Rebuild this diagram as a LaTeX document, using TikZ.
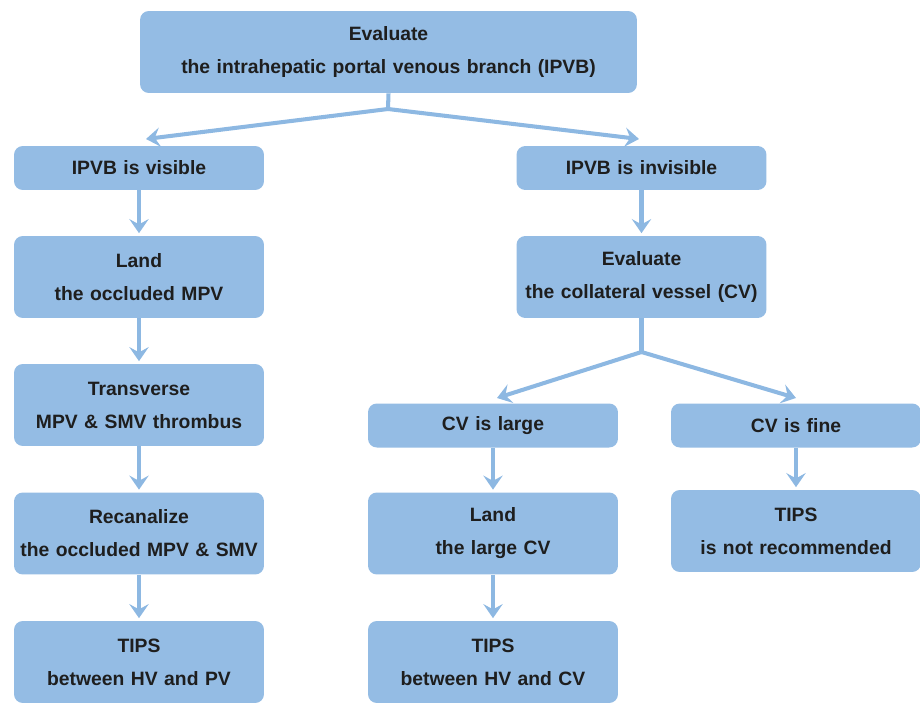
\documentclass[tikz,border=0pt]{standalone}
\usepackage{fontspec}
\setmainfont{Liberation Sans}
\usepackage{tikz}
\usetikzlibrary{arrows.meta,positioning,calc}

\definecolor{boxblue}{RGB}{148,188,228}
\definecolor{arrblue}{RGB}{141,184,226}
\definecolor{txtgray}{RGB}{30,30,30}

\tikzset{
  box/.style={fill=boxblue,rounded corners=5pt,minimum width=5cm,text width=4.9cm,align=center,
    text=txtgray,font=\fontsize{11}{18.8}\selectfont\bfseries,inner sep=0pt},
  small/.style={box,minimum height=0.88cm},
  big/.style={box,minimum height=1.64cm},
  arr/.style={draw=arrblue,line width=2.3pt,-{Stealth[length=8pt,width=11pt,inset=3pt]}},
  ln/.style={draw=arrblue,line width=2.3pt}
}

\begin{document}
\begin{tikzpicture}[x=0.02cm,y=-0.02cm]
\useasboundingbox (0,0) rectangle (920,703);
\node[big,minimum width=9.94cm,text width=9.6cm] (top) at (388.5,52) {Evaluate\\the intrahepatic portal venous branch (IPVB)};
\node[small] (vis)     at (139,168) {IPVB is visible};
\node[small] (invis)   at (641.5,168) {IPVB is invisible};
\node[big]   (landmpv) at (139,277) {Land\\the occluded MPV};
\node[big]   (evalcv)  at (641.5,277) {Evaluate\\the collateral vessel (CV)};
\node[big]   (trans)   at (139,405) {Transverse\\MPV \& SMV thrombus};
\node[small] (cvlarge) at (493,425.5) {CV is large};
\node[small] (cvfine)  at (796,425.5) {CV is fine};
\node[big]   (recan)   at (139,533.5) {Recanalize\\the occluded MPV \& SMV};
\node[big]   (landcv)  at (493,533.5) {Land\\the large CV};
\node[big]   (notrec)  at (796,531) {TIPS\\is not recommended};
\node[big]   (tipspv)  at (139,662) {TIPS\\between HV and PV};
\node[big]   (tipscv)  at (493,662) {TIPS\\between HV and CV};

% branch points
\coordinate (j1) at (388,109);
\coordinate (j1l) at (146,139);
\coordinate (j1r) at (639,139);
\coordinate (j2) at (641.5,352);
\coordinate (j2l) at (497,398);
\coordinate (j2r) at (796,398);

\draw[ln] (top.south) -- (j1);
\draw[arr] (j1) -- (j1l);
\draw[arr] (j1) -- (j1r);
\draw[ln] (evalcv.south) -- (j2);
\draw[arr] (j2) -- (j2l);
\draw[arr] (j2) -- (j2r);

\draw[arr] (vis) -- ([yshift=0.05cm]landmpv.north);
\draw[arr] (landmpv) -- ([yshift=0.05cm]trans.north);
\draw[arr] (trans) -- ([yshift=0.05cm]recan.north);
\draw[arr] (recan) -- ([yshift=0.05cm]tipspv.north);
\draw[arr] (invis) -- ([yshift=0.05cm]evalcv.north);
\draw[arr] (cvlarge) -- ([yshift=0.05cm]landcv.north);
\draw[arr] (landcv) -- ([yshift=0.05cm]tipscv.north);
\draw[arr] (cvfine) -- ([yshift=0.05cm]notrec.north);
\end{tikzpicture}
\end{document}
